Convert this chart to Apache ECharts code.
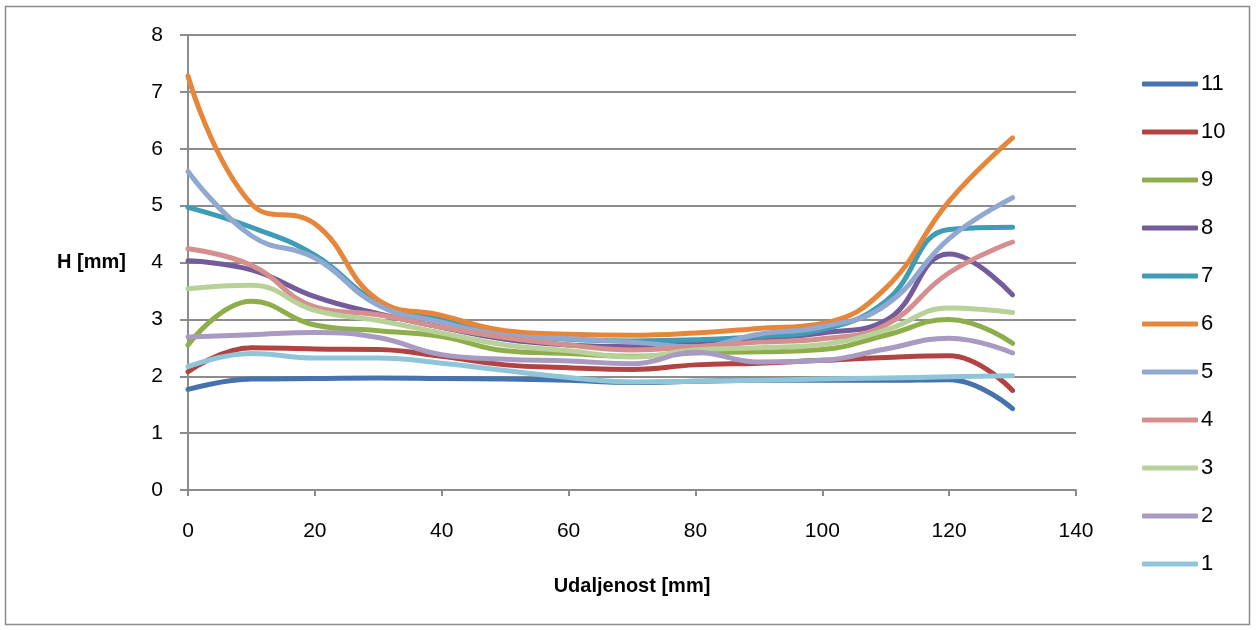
<!DOCTYPE html>
<html>
<head>
<meta charset="utf-8">
<script src="https://cdn.jsdelivr.net/npm/echarts@6/dist/echarts.min.js"></script>
<style>
  html, body { margin: 0; padding: 0; background: #fff; }
  #chart { width: 1256px; height: 630px; }
</style>
</head>
<body>
<div id="chart"></div>
<script>
// udaljenost (mm)
const xValues = [0, 10, 20, 30, 40, 50, 60, 70, 80, 90, 100, 110, 120, 130]

const s11 = [1.77, 1.95, 1.96, 1.97, 1.96, 1.95, 1.93, 1.89, 1.91, 1.93, 1.93, 1.93, 1.94, 1.43]
const s10 = [2.08, 2.50, 2.48, 2.47, 2.35, 2.20, 2.15, 2.12, 2.20, 2.23, 2.28, 2.33, 2.36, 1.75]
const s9 = [2.55, 3.32, 2.90, 2.80, 2.70, 2.45, 2.40, 2.35, 2.41, 2.43, 2.47, 2.72, 3.00, 2.58]
const s8 = [4.03, 3.87, 3.40, 3.10, 2.86, 2.65, 2.55, 2.52, 2.60, 2.66, 2.76, 2.98, 4.15, 3.43]
const s7 = [4.97, 4.62, 4.13, 3.30, 3.02, 2.78, 2.65, 2.62, 2.64, 2.70, 2.82, 3.32, 4.58, 4.62]
const s6 = [7.28, 5.03, 4.68, 3.34, 3.07, 2.80, 2.74, 2.72, 2.76, 2.84, 2.93, 3.55, 5.08, 6.19]
const s5 = [5.60, 4.47, 4.08, 3.25, 2.95, 2.72, 2.66, 2.60, 2.52, 2.74, 2.87, 3.25, 4.42, 5.14]
const s4 = [4.24, 3.95, 3.22, 3.08, 2.86, 2.68, 2.55, 2.46, 2.52, 2.60, 2.66, 2.90, 3.82, 4.36]
const s3 = [3.54, 3.60, 3.16, 2.98, 2.76, 2.55, 2.45, 2.34, 2.46, 2.50, 2.56, 2.81, 3.20, 3.12]
const s2 = [2.69, 2.73, 2.77, 2.68, 2.38, 2.30, 2.27, 2.22, 2.42, 2.25, 2.28, 2.48, 2.67, 2.41]
const s1 = [2.17, 2.40, 2.32, 2.32, 2.23, 2.10, 1.98, 1.90, 1.91, 1.93, 1.95, 1.97, 1.99, 2.01]

const seriesNames = ['11', '10', '9', '8', '7', '6', '5', '4', '3', '2', '1']
const seriesValues = [s11, s10, s9, s8, s7, s6, s5, s4, s3, s2, s1]
const colors = ['#4672ad', '#b14442', '#8eae4c', '#745c9c', '#3f9cb5', '#e6863a',
  '#91a9d1', '#d48f8e', '#b8d198', '#a89ac2', '#8fc5d8']

const font = "'Liberation Sans', 'Noto Sans', sans-serif"
const gridColor = '#8c8c8c'

const chart = echarts.init(document.getElementById('chart'))

chart.setOption({
  animation: false,
  color: colors,
  graphic: [{
    type: 'rect',
    shape: { x: 5.5, y: 6.5, width: 1244, height: 618 },
    style: { fill: 'none', stroke: gridColor, lineWidth: 1.5 },
    silent: true
  }],
  legend: {
    orient: 'vertical',
    left: 1137,
    top: 68,
    itemWidth: 56,
    itemHeight: 5,
    itemGap: 26,
    icon: 'roundRect',
    textStyle: { fontFamily: font, fontSize: 22, color: '#000', padding: [0, 0, 0, -2], lineHeight: 21 },
    data: seriesNames
  },
  grid: {
    left: 188,
    right: 180,
    top: 35,
    bottom: 140
  },
  xAxis: {
    type: 'value',
    min: 0,
    max: 140,
    interval: 20,
    name: 'Udaljenost [mm]',
    nameLocation: 'middle',
    nameGap: 86,
    nameTextStyle: { fontFamily: font, fontSize: 20, fontWeight: 'bold', color: '#000' },
    axisLine: { show: true, lineStyle: { color: gridColor, width: 2 } },
    axisTick: { show: true, length: 6, lineStyle: { color: gridColor, width: 2 } },
    axisLabel: { fontFamily: font, fontSize: 21, color: '#000', margin: 31 },
    splitLine: { show: false }
  },
  yAxis: {
    type: 'value',
    min: 0,
    max: 8,
    interval: 1,
    name: 'H [mm]',
    nameLocation: 'middle',
    nameRotate: 0,
    nameGap: 62,
    nameTextStyle: { fontFamily: font, fontSize: 20, fontWeight: 'bold', color: '#000' },
    axisLine: { show: true, lineStyle: { color: gridColor, width: 2 } },
    axisTick: { show: true, length: 8, lineStyle: { color: gridColor, width: 2 } },
    axisLabel: { fontFamily: font, fontSize: 21, color: '#000', margin: 25 },
    splitLine: { show: true, lineStyle: { color: gridColor, width: 2 } }
  },
  series: seriesNames.map((name, i) => ({
    name: name,
    type: 'line',
    smooth: 0.45,
    symbol: 'none',
    lineStyle: { width: 5, cap: 'round', join: 'round' },
    data: xValues.map((x, j) => [x, seriesValues[i][j]])
  }))
})
</script>
</body>
</html>
